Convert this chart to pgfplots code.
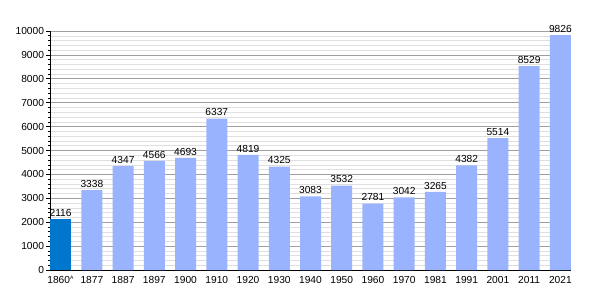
\documentclass[border=0pt]{standalone}
\usepackage{pgfplots}
\pgfplotsset{compat=1.18}
\usepackage{fontspec}
\setmainfont{Liberation Sans}
\definecolor{barlight}{RGB}{153,179,255}
\definecolor{bardark}{RGB}{0,119,204}
\begin{document}
\begin{tikzpicture}[font=\fontsize{10.2}{12}\selectfont]
\begin{axis}[
  scale only axis,
  width=521pt, height=239pt,
  xmin=-0.34, xmax=16.34,
  ymin=0, ymax=10000,
  axis x line*=bottom, axis y line*=left,
  axis line style={black, line width=0.8pt},
  xtick={0,...,16},
  xticklabels={1860\textsuperscript{\tiny A},1877,1887,1897,1900,1910,1920,1930,1940,1950,1960,1970,1981,1991,2001,2011,2021},
  x tick style={draw=none},
  ytick={0,1000,...,10000},
  scaled y ticks=false,
  yticklabel={\pgfmathprintnumber[fixed,1000 sep={}]{\tick}},
  minor y tick num=4,
  tick align=outside,
  y tick style={black, line width=0.6pt},
  major tick length=3.5pt,
  minor tick length=2pt,
  ymajorgrids, yminorgrids,
  major grid style={gray!75, line width=0.6pt},
  minor grid style={gray!25, line width=0.5pt},
  /pgf/number format/assume math mode=true,
  /pgf/number format/1000 sep={},
  xticklabel style={yshift=1pt},
  yticklabel style={xshift=1pt},
  ybar, bar width=21pt,
  nodes near coords,
  every node near coord/.append style={font=\fontsize{10.2}{12}\selectfont, /pgf/number format/1000 sep={}, yshift=-1pt},
  clip=false,
]
\addplot[fill=bardark, draw=none, bar shift=0pt] coordinates {(0,2116)};
\addplot[fill=barlight, draw=none, bar shift=0pt] coordinates {
(1,3338) (2,4347) (3,4566) (4,4693) (5,6337) (6,4819) (7,4325) (8,3083)
(9,3532) (10,2781) (11,3042) (12,3265) (13,4382) (14,5514) (15,8529) (16,9826)};
\end{axis}
\path[use as bounding box] (current axis.south west) ++(-50pt,-30pt) rectangle ++(600pt,300pt);
\end{tikzpicture}
\end{document}
